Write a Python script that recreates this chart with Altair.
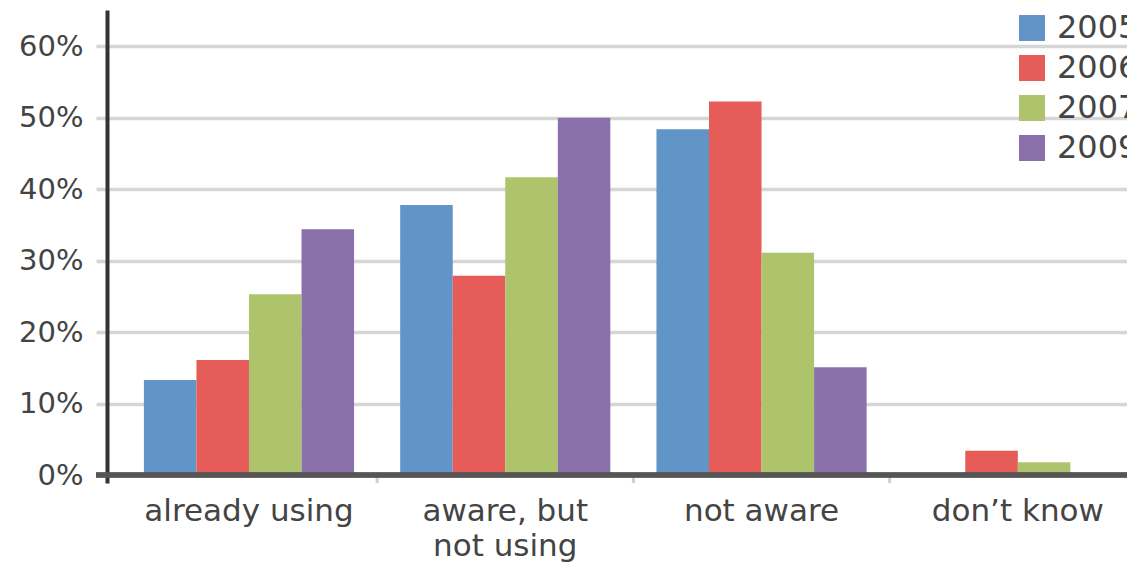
import altair as alt
import pandas as pd

categories = ["already using", "aware, but|not using", "not aware", "don’t know"]
years = ["2005", "2006", "2007", "2009"]
v2005 = [13.3, 37.8, 48.4, 0.0]
v2006 = [16.1, 27.9, 52.3, 3.4]
v2007 = [25.3, 41.7, 31.1, 1.8]
v2009 = [34.4, 50.0, 15.1, 0.0]
colors = ["#6195c8", "#e55c59", "#adc36c", "#8b71ab"]
y_ticks = [0, 0.1, 0.2, 0.3, 0.4, 0.5, 0.6]

rows = []
for yr, vals in zip(years, [v2005, v2006, v2007, v2009]):
    for c, v in zip(categories, vals):
        rows.append({"cat": c, "year": yr, "value": v / 100.0})
df = pd.DataFrame(rows)
sep_df = pd.DataFrame({"cat": categories[1:]})

W, H = 1020, 473
FONT = "DejaVu Sans"
TXT = "#444444"
P_IN, P_OUT = 0.18, 0.08
STEP = W / (len(categories) - P_IN + 2 * P_OUT)

xscale = alt.Scale(domain=categories, paddingInner=P_IN, paddingOuter=P_OUT, align=0.9)
yscale = alt.Scale(domain=[-0.0112, 0.651], nice=False, zero=False)

bars = alt.Chart(df).mark_bar().encode(
    x=alt.X("cat:N", sort=categories, scale=xscale,
            axis=alt.Axis(title=None, domain=False, ticks=False, grid=False, labelAngle=0,
                          labelFont=FONT, labelFontSize=31, labelColor=TXT,
                          labelPadding=13, labelLineHeight=35, labelLimit=500,
                          labelExpr="split(datum.label, '|')")),
    xOffset=alt.XOffset("year:N", sort=years, scale=alt.Scale(paddingInner=0, paddingOuter=0)),
    y=alt.Y("value:Q", scale=yscale,
            axis=alt.Axis(title=None, values=y_ticks, format=".0%",
                          domainColor="#333333", domainWidth=4,
                          tickColor="#d6d6d6", tickWidth=3.5, tickSize=11,
                          grid=True, gridColor="#d6d6d6", gridWidth=3.5,
                          labelFont=FONT, labelFontSize=29, labelColor=TXT,
                          labelPadding=13)),
    y2=alt.datum(0),
    color=alt.Color("year:N", sort=years, scale=alt.Scale(domain=years, range=colors),
                    legend=alt.Legend(orient="none", legendX=909, legendY=2, title=None,
                                      symbolType="square", symbolSize=676,
                                      symbolStrokeWidth=0, symbolOpacity=1,
                                      labelFont=FONT, labelFontSize=32, labelColor=TXT,
                                      labelOffset=9, rowPadding=8, padding=0)),
)

seps = alt.Chart(sep_df).mark_rule(color="#cfcfcf", strokeWidth=3,
                                   xOffset=-STEP * P_IN / 2).encode(
    x=alt.X("cat:N", sort=categories, scale=xscale, bandPosition=0),
    y=alt.datum(0),
    y2=alt.datum(-0.0112),
)

zero = alt.Chart(sep_df).mark_rule(color="#555555", strokeWidth=5).encode(
    x=alt.value(-11),
    x2=alt.value(W + 10),
    y=alt.datum(0),
)

chart = alt.layer(bars, seps, zero).properties(
    width=W, height=H,
    background="white",
    autosize=alt.AutoSizeParams(type="none"),
    padding={"left": 99, "top": 2, "right": 0, "bottom": 80},
).configure_view(stroke="transparent", strokeWidth=0)

chart.save("out.html", embed_options={"renderer": "svg", "actions": False})
